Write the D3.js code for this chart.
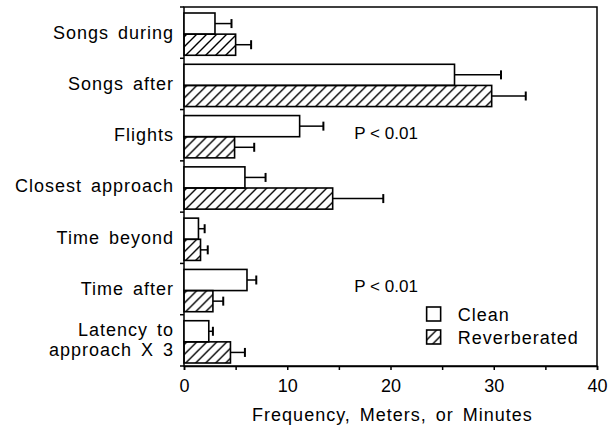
<!DOCTYPE html>
<html>
<head>
<meta charset="utf-8">
<script src="https://cdn.jsdelivr.net/npm/d3@7"></script>
<style>
body { margin:0; background:#fff; }
text { font-family:"Liberation Sans", Arial, Helvetica, sans-serif; fill:#000; }
</style>
</head>
<body>
<svg id="chart" width="610" height="428"></svg>
<script>
// categories top to bottom, each label can have several lines
var categories = ["Songs during", "Songs after", "Flights", "Closest approach", "Time beyond", "Time after", "Latency to approach X 3"];
var catLines = [["Songs during"], ["Songs after"], ["Flights"], ["Closest approach"], ["Time beyond"], ["Time after"], ["Latency to", "approach X 3"]];
var series = ["Clean", "Reverberated"];
var clean = [3.0, 26.2, 11.2, 5.9, 1.4, 6.1, 2.4];
var cleanErr = [1.6, 4.5, 2.3, 2.0, 0.6, 0.9, 0.4];
var reverb = [5.0, 29.8, 4.9, 14.4, 1.6, 2.8, 4.5];
var reverbErr = [1.5, 3.3, 1.9, 4.9, 0.7, 1.0, 1.4];
var xTicks = [0, 5, 10, 15, 20, 25, 30, 35, 40];
var xLabels = [0, 10, 20, 30, 40];
var notes = [{cat: "Flights", text: "P < 0.01", at: 16.5}, {cat: "Time after", text: "P < 0.01", at: 16.5}];

var margin = {top: 7, right: 13, bottom: 62, left: 184},
    width = 610 - margin.left - margin.right,
    height = 428 - margin.top - margin.bottom;

var svg = d3.select("#chart")
  .append("g")
    .attr("transform", "translate(" + margin.left + "," + margin.top + ")");

var defs = d3.select("#chart").append("defs");
var pat = defs.append("pattern")
    .attr("id", "hatch")
    .attr("patternUnits", "userSpaceOnUse")
    .attr("width", 10)
    .attr("height", 10);
pat.append("path")
    .attr("d", "M-2,2 L2,-2 M0,10 L10,0 M8,12 L12,8")
    .attr("stroke", "#000")
    .attr("stroke-width", 1.4);

var x = d3.scaleLinear().domain([0, 40]).range([0, width]);
var y0 = d3.scaleBand().domain(categories).range([0, height]).padding(0);
var y1 = d3.scaleBand().domain(series).range([6, y0.bandwidth() - 3]).padding(0);

var rows = categories.map(function(c, i) {
  return {cat: c, lines: catLines[i], vals: [
    {s: "Clean", v: clean[i], e: cleanErr[i]},
    {s: "Reverberated", v: reverb[i], e: reverbErr[i]}
  ]};
});

// frame
svg.append("rect")
    .attr("width", width)
    .attr("height", height)
    .attr("fill", "none")
    .attr("stroke", "#000")
    .attr("stroke-width", 1.5);

var group = svg.selectAll(".cat")
    .data(rows)
  .enter().append("g")
    .attr("class", "cat")
    .attr("transform", function(d) { return "translate(0," + y0(d.cat) + ")"; });

var bar = group.selectAll(".bar")
    .data(function(d) { return d.vals; })
  .enter().append("g")
    .attr("class", "bar");

// error bars first so the bar outline sits over them
bar.append("line")
    .attr("x1", function(d) { return x(d.v); })
    .attr("x2", function(d) { return x(d.v + d.e); })
    .attr("y1", function(d) { return y1(d.s) + y1.bandwidth() / 2; })
    .attr("y2", function(d) { return y1(d.s) + y1.bandwidth() / 2; })
    .attr("stroke", "#000")
    .attr("stroke-width", 1.5);
bar.append("line")
    .attr("x1", function(d) { return x(d.v + d.e); })
    .attr("x2", function(d) { return x(d.v + d.e); })
    .attr("y1", function(d) { return y1(d.s) + y1.bandwidth() / 2 - 4.5; })
    .attr("y2", function(d) { return y1(d.s) + y1.bandwidth() / 2 + 4.5; })
    .attr("stroke", "#000")
    .attr("stroke-width", 2);

bar.append("rect")
    .attr("x", 0)
    .attr("y", function(d) { return y1(d.s); })
    .attr("width", function(d) { return x(d.v); })
    .attr("height", y1.bandwidth())
    .attr("fill", function(d) { return d.s === "Clean" ? "#fff" : "url(#hatch)"; })
    .attr("stroke", "#000")
    .attr("stroke-width", 1.6);

// category labels
group.append("text")
    .attr("text-anchor", "end")
    .style("font-size", "18px")
    .style("letter-spacing", "1px")
    .style("word-spacing", "3px")
    .each(function(d) {
      var t = d3.select(this);
      var n = d.lines.length;
      d.lines.forEach(function(l, i) {
        t.append("tspan")
            .attr("x", -10)
            .attr("y", y0.bandwidth() / 2 + 6 + (i - (n - 1) / 2) * 20)
            .text(l);
      });
    });

// left axis ticks at category boundaries
var bounds = categories.map(function(c) { return y0(c); }).concat([height]);
svg.selectAll(".ytick")
    .data(bounds)
  .enter().append("line")
    .attr("x1", -4)
    .attr("x2", 0)
    .attr("y1", function(d) { return d; })
    .attr("y2", function(d) { return d; })
    .attr("stroke", "#000")
    .attr("stroke-width", 1.5);

// bottom axis
var xAxis = d3.axisBottom(x)
    .tickValues(xTicks)
    .tickSize(4)
    .tickPadding(9)
    .tickFormat(function(d) { return xLabels.indexOf(d) !== -1 ? d : ""; });
var gx = svg.append("g")
    .attr("transform", "translate(0," + height + ")")
    .call(xAxis);
gx.select(".domain").attr("stroke-width", 1.5);
gx.selectAll(".tick line").attr("stroke-width", 1.5);
gx.selectAll(".tick text")
    .style("font-size", "18px")
    .style("font-family", "'Liberation Sans', Arial, sans-serif");

svg.append("text")
    .attr("x", width / 2 + 2)
    .attr("y", height + 55)
    .attr("text-anchor", "middle")
    .style("font-size", "18px")
    .style("letter-spacing", "1px")
    .style("word-spacing", "3px")
    .text("Frequency, Meters, or Minutes");

// significance notes
svg.selectAll(".note")
    .data(notes)
  .enter().append("text")
    .attr("x", function(d) { return x(d.at); })
    .attr("y", function(d) { return y0(d.cat) + 29; })
    .style("font-size", "17px")
    .text(function(d) { return d.text; });

// legend
var legend = svg.append("g")
    .attr("transform", "translate(" + (x(23.5)) + "," + 300 + ")");
var li = legend.selectAll(".li")
    .data(series)
  .enter().append("g")
    .attr("transform", function(d, i) { return "translate(0," + i * 23 + ")"; });
li.append("rect")
    .attr("width", 14)
    .attr("height", 14)
    .attr("fill", function(d) { return d === "Clean" ? "#fff" : "url(#hatch)"; })
    .attr("stroke", "#000")
    .attr("stroke-width", 1.6);
li.append("text")
    .attr("x", 31)
    .attr("y", 14)
    .style("font-size", "18px")
    .style("letter-spacing", "1px")
    .text(function(d) { return d; });
</script>
</body>
</html>
